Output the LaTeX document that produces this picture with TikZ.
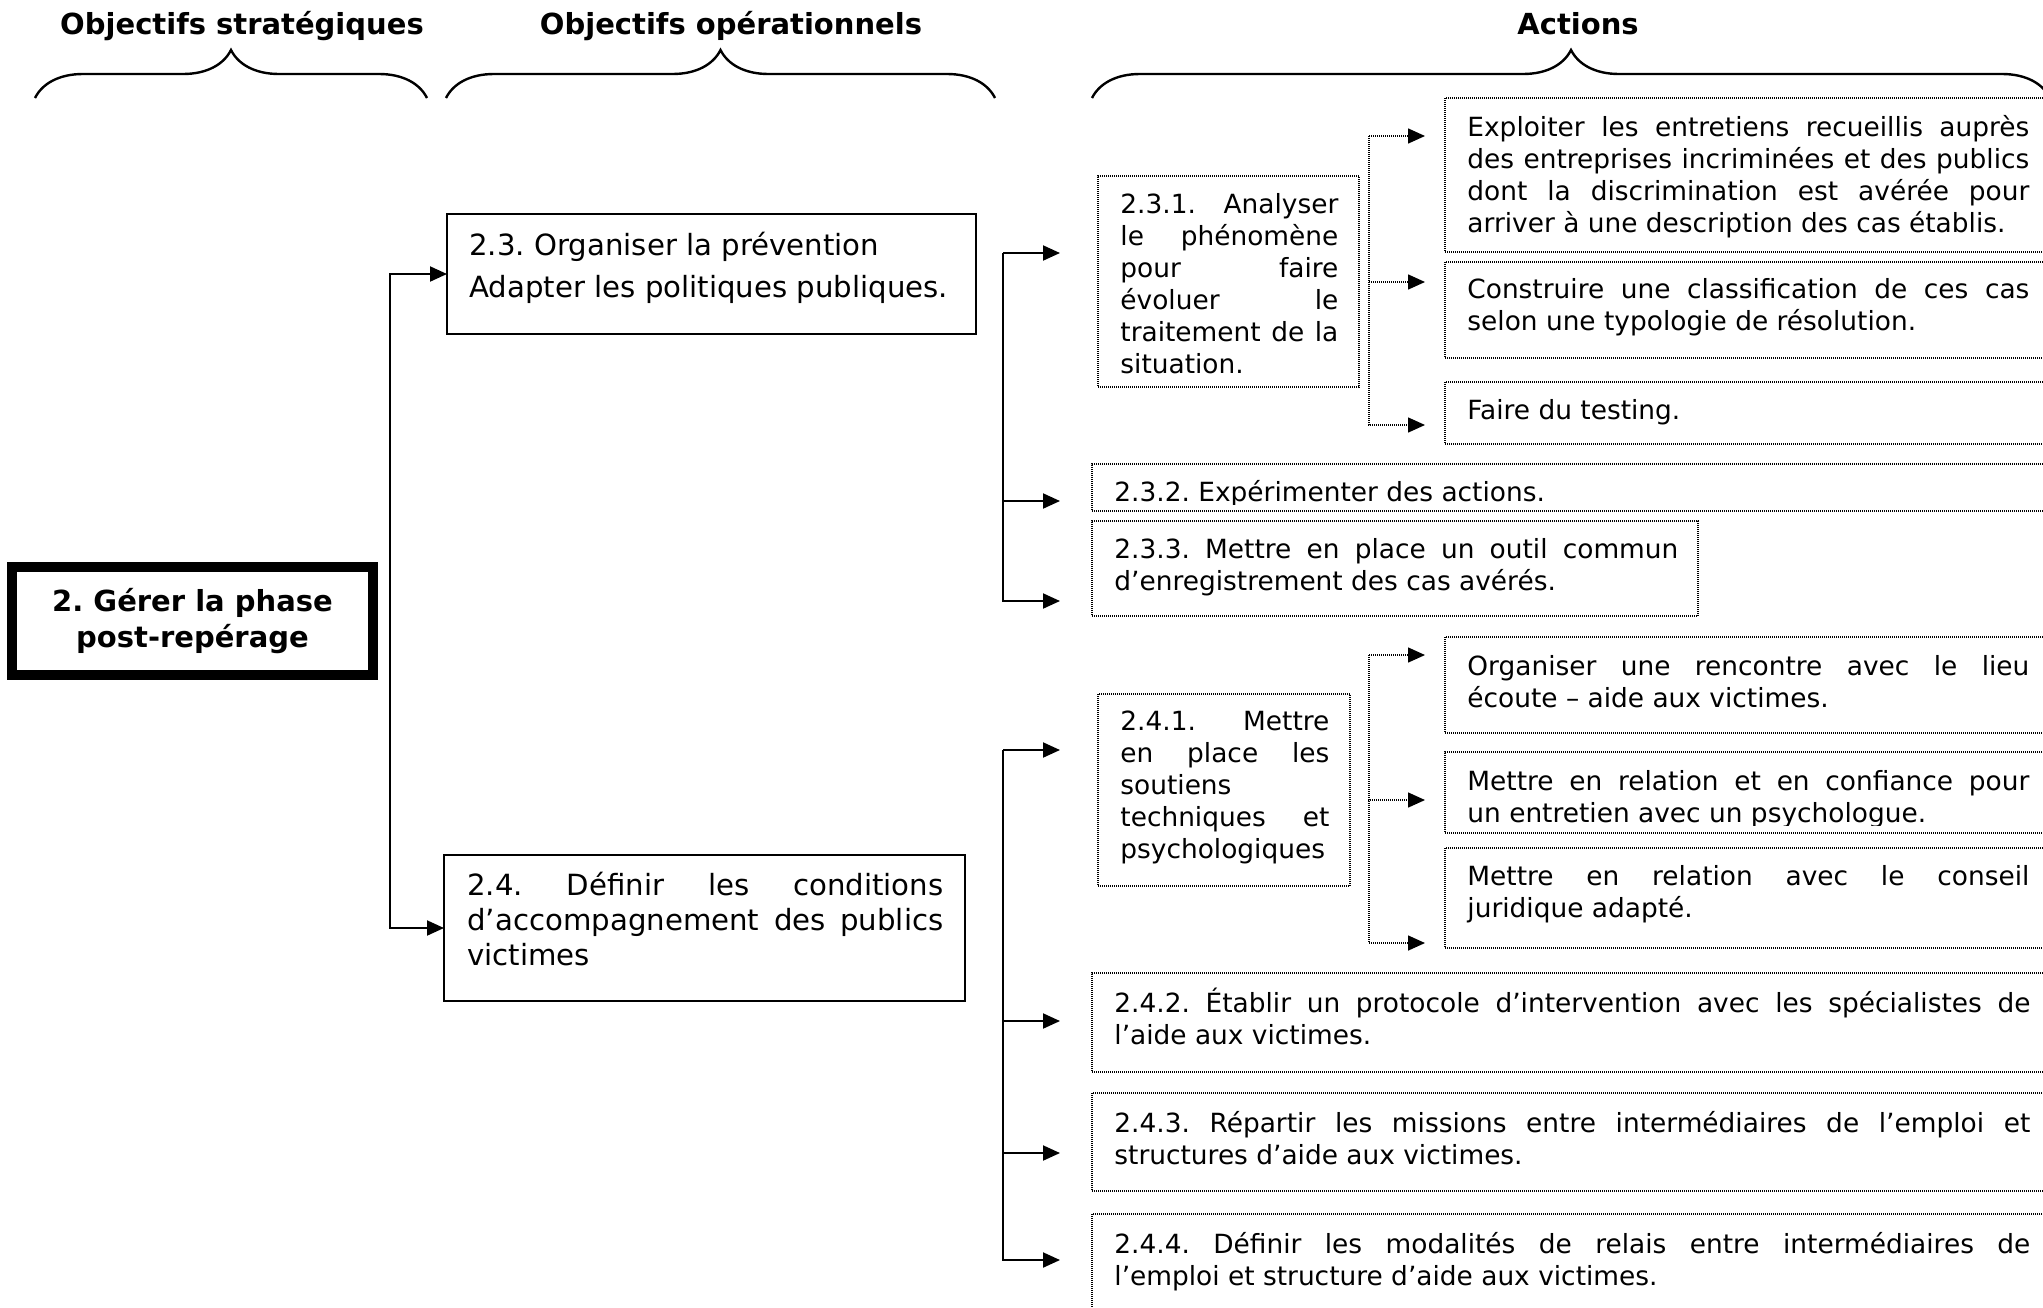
\documentclass[tikz,border=0pt]{standalone}
\usepackage{fontspec}
\setmainfont{DejaVu Sans}
\usetikzlibrary{arrows.meta,decorations.pathreplacing}
\frenchspacing

% one justified line of a fixed-width paragraph
\newcommand\jl[1]{\makebox[\linewidth][s]{#1}\\}
\newcommand\actfont{\fontsize{13.2}{16}\selectfont}
\newcommand\opfont{\fontsize{14.6}{17.5}\selectfont}
\newcommand\headfont{\fontsize{14.5}{18.2}\selectfont\bfseries}

\tikzset{
  solidbox/.style={draw, line width=0.9pt, rectangle, inner sep=0pt, outer sep=0pt, anchor=north west},
  dotbox/.style={draw, line width=0.75pt, dash pattern=on 0.5pt off 0.5pt, rectangle, inner sep=0pt, outer sep=0pt, anchor=north west},
  mainbox/.style={draw, line width=5pt, rectangle, inner sep=0pt, outer sep=0pt,
    minimum width=180.5pt, minimum height=54pt, align=center, font=\headfont},
  boxtext/.style={inner sep=0pt, anchor=base west},
  heading/.style={inner sep=0pt, anchor=base, font=\headfont},
  link/.style={line width=1pt, -{Triangle[length=8.5pt,width=7.5pt]}},
  dotlink/.style={line width=0.75pt, dash pattern=on 0.5pt off 0.5pt, -{Triangle[length=8.5pt,width=7.5pt]}},
  bracket/.style={decorate, decoration={brace, amplitude=24pt}, line width=1.2pt},
}

\begin{document}
\begin{tikzpicture}[x=0.5pt, y=-0.5pt]
\path[fill=white, use as bounding box] (0,0) rectangle (2043,1307);
\clip (0,0) rectangle (2043,1307);

% column headings and braces
\node[heading] (h1) at (242,34.5) {Objectifs stratégiques};
\node[heading] (h2) at (731,34.5) {Objectifs opérationnels};
\node[heading] (h3) at (1578,34.5) {Actions};
\draw[bracket] (35,98) -- (427,98);
\draw[bracket] (446,98) -- (995,98);
\draw[bracket] (1092,98) -- (2050,98);

% strategic objective
\node[mainbox] (main) at (192.5,621) {2. Gérer la phase\\post-repérage};

% operational objectives
\node[solidbox, minimum width=264.5pt, minimum height=60pt] (b23) at (447,214) {};
\node[boxtext] (x23) at (469,255) {\opfont\parbox[t]{250pt}{2.3. Organiser la prévention\\[3.5pt]Adapter les politiques publiques.}};
\node[solidbox, minimum width=260.5pt, minimum height=73pt] (b24) at (444,855) {};
\node[boxtext] (x24) at (467,895) {\opfont\parbox[t]{238pt}{\jl{2.4. Définir les conditions}\jl{d’accompagnement des publics}victimes}};

% actions under 2.3
\node[dotbox, minimum width=130.5pt, minimum height=105.5pt] (b231) at (1098,176) {};
\node[boxtext] (x231) at (1120,213.5) {\actfont\parbox[t]{109pt}{\jl{2.3.1. Analyser}\jl{le phénomène}\jl{pour faire}\jl{évoluer le}\jl{traitement de la}situation.}};

\node[dotbox, minimum width=303.5pt, minimum height=77pt] (bExp) at (1445,98) {};
\node[boxtext] (xExp) at (1467,136) {\actfont\parbox[t]{281pt}{\jl{Exploiter les entretiens recueillis auprès}\jl{des entreprises incriminées et des publics}\jl{dont la discrimination est avérée pour}arriver à une description des cas établis.}};

\node[dotbox, minimum width=303.5pt, minimum height=48pt] (bCon) at (1445,262) {};
\node[boxtext] (xCon) at (1467,298) {\actfont\parbox[t]{281pt}{\jl{Construire une classification de ces cas}selon une typologie de résolution.}};

\node[dotbox, minimum width=303.5pt, minimum height=31pt] (bTest) at (1445,382) {};
\node[boxtext] (xTest) at (1467,419) {\actfont Faire du testing.};

\node[dotbox, minimum width=480pt, minimum height=23.5pt] (b232) at (1092,464) {};
\begin{scope}
  \clip (b232.north west) rectangle ([yshift=3.5pt]b232.south east);
  \node[boxtext] (x232) at (1114,501) {\actfont 2.3.2. Expérimenter des actions.};
\end{scope}

\node[dotbox, minimum width=303pt, minimum height=47.5pt] (b233) at (1092,521) {};
\node[boxtext] (x233) at (1114,558.5) {\actfont\parbox[t]{282pt}{\jl{2.3.3. Mettre en place un outil commun}d’enregistrement des cas avérés.}};

% actions under 2.4
\node[dotbox, minimum width=126pt, minimum height=96pt] (b241) at (1098,694) {};
\node[boxtext] (x241) at (1120,730.5) {\actfont\parbox[t]{104.5pt}{\jl{2.4.1. Mettre}\jl{en place les}soutiens\\\jl{techniques et}psychologiques}};

\node[dotbox, minimum width=303.5pt, minimum height=48pt] (bOrg) at (1445,637) {};
\node[boxtext] (xOrg) at (1467,675) {\actfont\parbox[t]{281pt}{\jl{Organiser une rencontre avec le lieu}écoute – aide aux victimes.}};

\node[dotbox, minimum width=303.5pt, minimum height=40.5pt] (bRel) at (1445,752) {};
\begin{scope}
  \clip (bRel.north west) rectangle ([yshift=4pt]bRel.south east);
  \node[boxtext] (xRel) at (1467,790) {\actfont\parbox[t]{281pt}{\jl{Mettre en relation et en confiance pour}un entretien avec un psychologue.}};
\end{scope}

\node[dotbox, minimum width=303.5pt, minimum height=50pt] (bJur) at (1445,848) {};
\node[boxtext] (xJur) at (1467,885) {\actfont\parbox[t]{281pt}{\jl{Mettre en relation avec le conseil}juridique adapté.}};

\node[dotbox, minimum width=480pt, minimum height=49.5pt] (b242) at (1092,973) {};
\node[boxtext] (x242) at (1114,1012.5) {\actfont\parbox[t]{458pt}{\jl{2.4.2. Établir un protocole d’intervention avec les spécialistes de}l’aide aux victimes.}};

\node[dotbox, minimum width=480pt, minimum height=49pt] (b243) at (1092,1093) {};
\node[boxtext] (x243) at (1114,1132.5) {\actfont\parbox[t]{458pt}{\jl{2.4.3. Répartir les missions entre intermédiaires de l’emploi et}structures d’aide aux victimes.}};

\node[dotbox, minimum width=480pt, minimum height=60pt] (b244) at (1092,1214) {};
\node[boxtext] (x244) at (1114,1253) {\actfont\parbox[t]{458pt}{\jl{2.4.4. Définir les modalités de relais entre intermédiaires de}l’emploi et structure d’aide aux victimes.}};

% branching from the strategic objective
\coordinate (sp2) at (390,621);
\draw[link] (sp2) |- (b23.west);
\draw[link] (sp2) |- (b24.west);

% branching from 2.3
\coordinate (sp23) at (1003,253);
\coordinate (e231) at (1060,253);
\coordinate (e232) at (1060,501);
\coordinate (e233) at (1060,601);
\draw[link] (sp23) -- (e231);
\draw[link] (sp23) |- (e232);
\draw[link] (sp23) |- (e233);

% branching from 2.4
\coordinate (sp24) at (1003,750);
\coordinate (e241) at (1060,750);
\coordinate (e242) at (1060,1021);
\coordinate (e243) at (1060,1153);
\coordinate (e244) at (1060,1260);
\draw[link] (sp24) -- (e241);
\draw[link] (sp24) |- (e242);
\draw[link] (sp24) |- (e243);
\draw[link] (sp24) |- (e244);

% branching from 2.3.1
\coordinate (sp231) at (1369,136);
\coordinate (f1) at (1425,136);
\coordinate (f2) at (1425,282);
\coordinate (f3) at (1425,425);
\draw[dotlink] (sp231) -- (f1);
\draw[dotlink] (sp231) |- (f2);
\draw[dotlink] (sp231) |- (f3);

% branching from 2.4.1
\coordinate (sp241) at (1369,655);
\coordinate (g1) at (1425,655);
\coordinate (g2) at (1425,800);
\coordinate (g3) at (1425,943);
\draw[dotlink] (sp241) -- (g1);
\draw[dotlink] (sp241) |- (g2);
\draw[dotlink] (sp241) |- (g3);
\end{tikzpicture}
\end{document}
